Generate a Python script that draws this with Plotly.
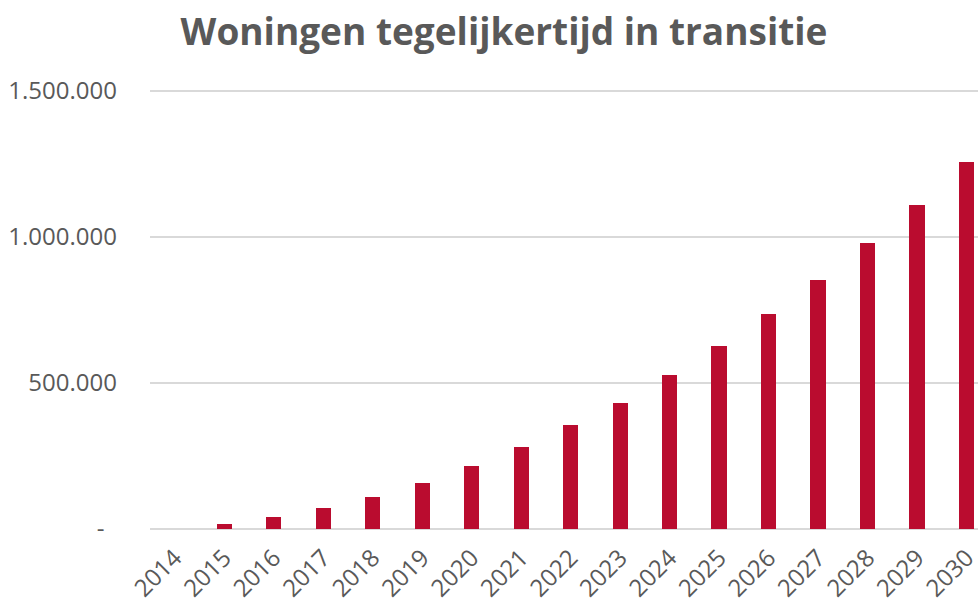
import plotly.graph_objects as go

years = [str(y) for y in range(2014, 2031)]
values = [0, 17000, 40000, 71000, 111000, 157000, 216000, 281000, 356000,
          433000, 527000, 626000, 737000, 852000, 979000, 1111000, 1256000]
y_tickvals = [0, 500000, 1000000, 1500000]
y_ticktext = ["-\u00a0\u00a0", "500.000", "1.000.000", "1.500.000"]

W, H = 978, 604

fig = go.Figure(go.Bar(
    x=years, y=values,
    marker=dict(color="#BA0C2F", line=dict(width=0)),
    width=0.31,
))

fig.update_layout(
    width=W, height=H,
    paper_bgcolor="white", plot_bgcolor="white",
    margin=dict(l=150, r=0, t=88, b=75),
    font=dict(family="Open Sans", color="#595959", size=24),
    title=dict(text="<b>Woningen tegelijkertijd in transitie</b>",
               x=504 / W, xanchor="center", xref="container",
               y=1 - 32 / H, yanchor="middle", yref="container",
               font=dict(family="Open Sans", size=37, color="#595959")),
    showlegend=False,
    bargap=0,
)
fig.update_xaxes(type="category", range=[-0.5, 16.23], tickangle=-45,
                 showgrid=False, showline=False, ticks="",
                 ticklabelstandoff=9, automargin=False,
                 tickfont=dict(size=24, color="#595959"))
fig.update_yaxes(range=[0, 1510000], tickvals=y_tickvals, ticktext=y_ticktext,
                 showgrid=True, gridcolor="#D9D9D9", gridwidth=1.5,
                 zeroline=True, zerolinecolor="#D9D9D9", zerolinewidth=1.5,
                 showline=False, ticks="", ticklabelstandoff=32, automargin=False,
                 tickfont=dict(size=24, color="#595959"))

fig.write_html(
    "out.html",
    config={"displayModeBar": False},
    post_script="document.body.style.margin='0';"
                "document.body.style.overflow='hidden';"
                "document.documentElement.style.overflow='hidden';",
)
